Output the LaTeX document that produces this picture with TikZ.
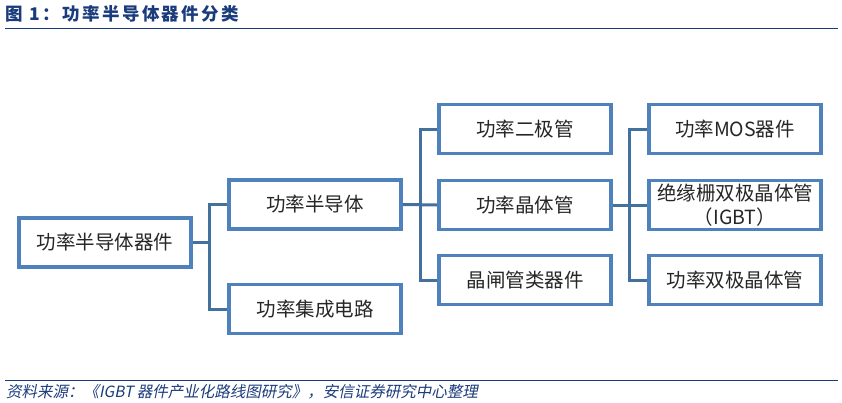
\documentclass[tikz,border=0pt]{standalone}
\usepackage{fontspec}
\setmainfont{Noto Sans CJK SC}
\newfontfamily\titlefont{Noto Sans CJK SC}[LetterSpace=14]
\newfontfamily\footfont{Noto Sans CJK SC}[FakeSlant=0.2]
\definecolor{boxblue}{HTML}{4F81BD}
\definecolor{linkblue}{HTML}{41719C}
\definecolor{navy}{HTML}{1B3C7C}
\definecolor{txt}{HTML}{262626}
\tikzset{
  box/.style={draw=boxblue, line width=3.6pt, fill=white, minimum width=172pt, minimum height=49pt, inner sep=0pt, align=center, text=txt, font=\fontsize{19.5}{24}\selectfont},
  link/.style={draw=linkblue, line width=3pt},
}
\begin{document}
\begin{tikzpicture}[x=1pt,y=-1pt]
\useasboundingbox (0,0) rectangle (842,402);
\fill[white] (0,0) rectangle (842,402);
% title
\node[anchor=west, text=navy, font=\titlefont\bfseries\fontsize{17.5}{20}\selectfont, inner sep=0pt] (title) at (5,14) {图 1：功率半导体器件分类};
\coordinate (tl1) at (5,28.5);
\coordinate (tl2) at (838,28.5);
\draw[navy, line width=1.3pt] (tl1) -- (tl2);
% boxes
\node[box] (root) at (105,242.5) {功率半导体器件};
\node[box] (semi) at (315,204.5) {功率半导体};
\node[box] (ic) at (315,309) {功率集成电路};
\node[box] (diode) at (525,129) {功率二极管};
\node[box] (trans) at (525,205) {功率晶体管};
\node[box] (thyr) at (525,280) {晶闸管类器件};
\node[box] (mos) at (735,129) {功率MOS器件};
\node[box] (igbt) at (735,205) {绝缘栅双极晶体管\\（IGBT）};
\node[box] (bjt) at (735,280) {功率双极晶体管};
% connectors
\draw[link] (root.east) -- ++(17,0) |- (semi.west);
\draw[link] (root.east) -- ++(17,0) |- (ic.west);
\draw[link] (semi.east) -- ++(18,0) |- (diode.west);
\draw[link] (semi.east) -- (trans.west);
\draw[link] (semi.east) -- ++(18,0) |- (thyr.west);
\draw[link] (trans.east) -- ++(17,0) |- (mos.west);
\draw[link] (trans.east) -- (igbt.west);
\draw[link] (trans.east) -- ++(17,0) |- (bjt.west);
% footer
\coordinate (bl1) at (5,380.5);
\coordinate (bl2) at (838,380.5);
\draw[navy, line width=1pt] (bl1) -- (bl2);
\node[anchor=west, text=navy, font=\footfont\fontsize{15.5}{18}\selectfont, inner sep=0pt] (src) at (6,392) {资料来源：《IGBT 器件产业化路线图研究》，安信证券研究中心整理};
\end{tikzpicture}
\end{document}
